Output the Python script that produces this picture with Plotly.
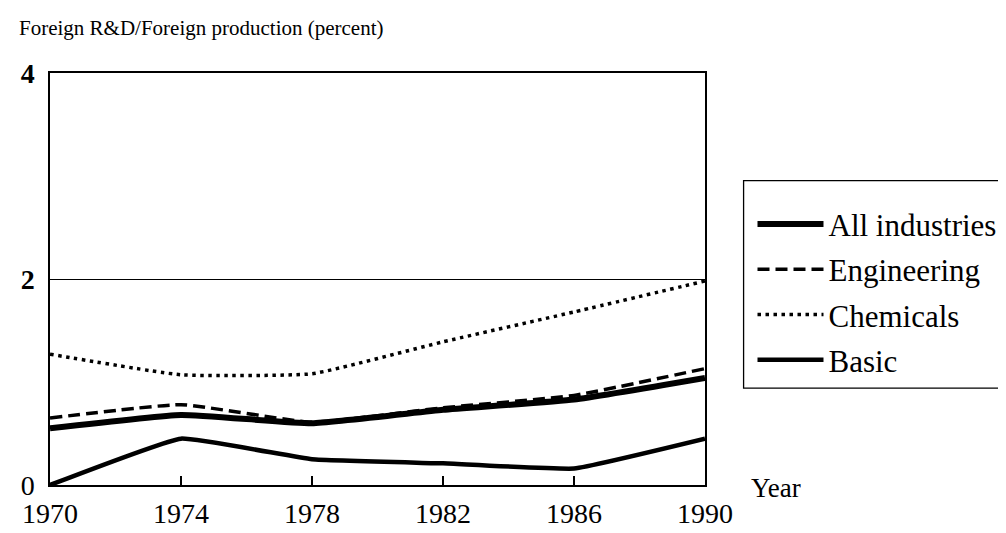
import plotly.graph_objects as go

years = [1970, 1974, 1978, 1982, 1986, 1990]
all_industries = [0.55, 0.68, 0.60, 0.73, 0.83, 1.04]
engineering = [0.65, 0.78, 0.61, 0.75, 0.87, 1.13]
chemicals = [1.27, 1.07, 1.08, 1.39, 1.68, 1.98]
basic = [0.00, 0.45, 0.25, 0.21, 0.16, 0.45]

y_ticks = [0, 2, 4]
y_tick_text = ["0", "<b>2</b>", "<b>4</b>"]
x_ticks = [1970, 1974, 1978, 1982, 1986, 1990]

FONT = "Liberation Serif"

L, R, T, B = 42, 302, 65, 47
W, H = 1006, 533
PW, PH = W - L - R, H - T - B


def px_x(p):
    return (p - L) / PW


def px_y(p):
    return 1 - (p - T) / PH


fig = go.Figure()
fig.add_trace(go.Scatter(x=years, y=all_industries, name="All industries", mode="lines", legendgroup="a",
                         line=dict(color="black", width=6, shape="spline", smoothing=0.4)))
fig.add_trace(go.Scatter(x=years, y=engineering, name="Engineering", mode="lines", legendgroup="b",
                         line=dict(color="black", width=3.5, dash="12px,6px", shape="spline", smoothing=0.4)))
fig.add_trace(go.Scatter(x=years, y=chemicals, name="Chemicals", mode="lines", legendgroup="c",
                         line=dict(color="black", width=3.5, dash="3.5px,4.5px", shape="spline", smoothing=0.4)))
fig.add_trace(go.Scatter(x=years, y=basic, name="Basic", mode="lines", legendgroup="d",
                         line=dict(color="black", width=4.5, shape="spline", smoothing=0.3)))

fig.update_layout(
    width=W, height=H,
    margin=dict(l=L, r=R, t=T, b=B),
    paper_bgcolor="white", plot_bgcolor="white",
    font=dict(family=FONT, size=24, color="black"),
    showlegend=True,
    legend=dict(x=px_x(752), y=px_y(192), xanchor="left", yanchor="top",
                borderwidth=0, bgcolor="rgba(0,0,0,0)",
                font=dict(family=FONT, size=31, color="black"),
                itemwidth=66, tracegroupgap=2),
    shapes=[dict(type="rect", xref="paper", yref="paper",
                 x0=px_x(743), x1=px_x(1010), y0=px_y(387), y1=px_y(175),
                 line=dict(color="black", width=1.3), fillcolor="rgba(0,0,0,0)", layer="above")],
    xaxis=dict(range=[1970, 1990], tickvals=x_ticks, ticktext=[str(v) for v in x_ticks],
               showgrid=False, zeroline=False, showline=True, linecolor="black", linewidth=1.5,
               mirror=True, ticks="inside", ticklen=9, tickcolor="black", tickwidth=1.5,
               ticklabelstandoff=3,
               tickfont=dict(family=FONT, size=28, color="black")),
    yaxis=dict(range=[0, 4], tickvals=y_ticks, ticktext=y_tick_text,
               showgrid=True, gridcolor="black", gridwidth=1.2, zeroline=False,
               showline=True, linecolor="black", linewidth=1.5, mirror=True, ticks="",
               ticklabelstandoff=8,
               tickfont=dict(family=FONT, size=28, color="black")),
    annotations=[
        dict(text="Foreign R&D/Foreign production (percent)", xref="paper", yref="paper",
             x=px_x(9), y=px_y(19), xanchor="left", yanchor="middle", showarrow=False,
             font=dict(family=FONT, size=21, color="black")),
        dict(text="Year", xref="paper", yref="paper", x=px_x(748), y=px_y(489),
             xanchor="left", yanchor="middle", showarrow=False,
             font=dict(family=FONT, size=27, color="black")),
    ],
)

fig.write_html("out.html")
